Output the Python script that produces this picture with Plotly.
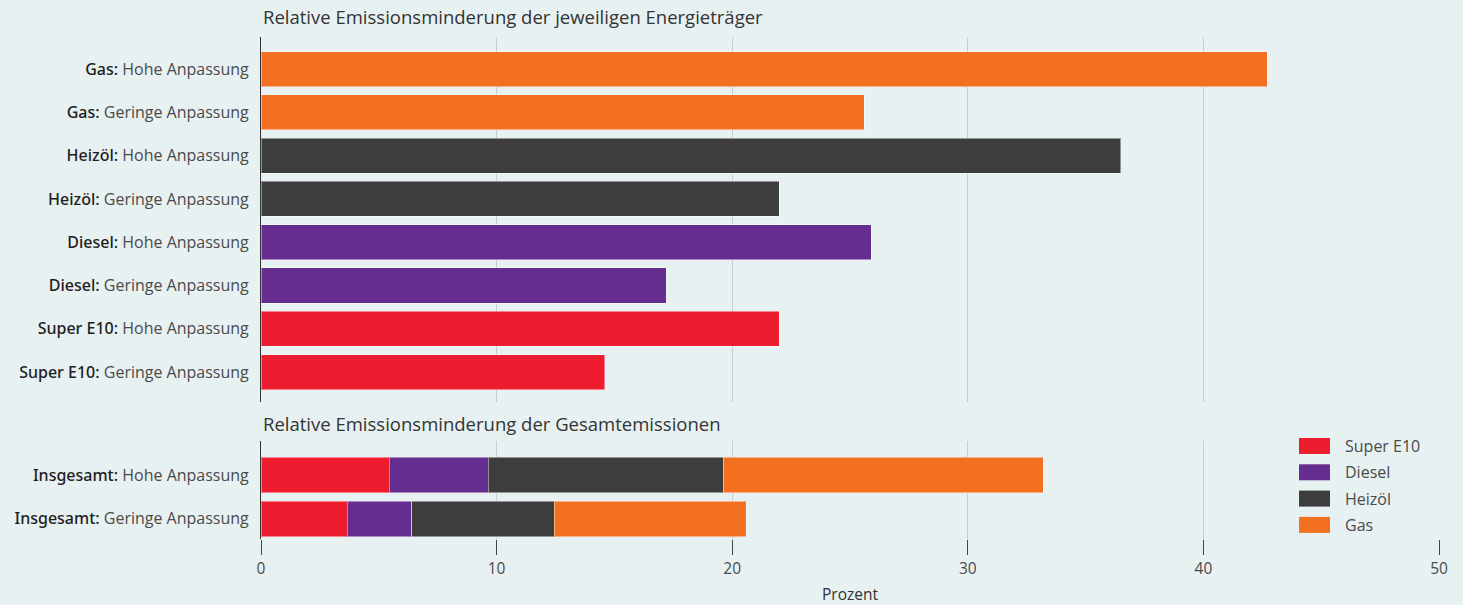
import plotly.graph_objects as go
from plotly.subplots import make_subplots

# ---- data ----
top_carriers = ["Gas", "Gas", "Heizöl", "Heizöl", "Diesel", "Diesel", "Super E10", "Super E10"]
top_variants = ["Hohe Anpassung", "Geringe Anpassung"] * 4
top_values = [42.7, 25.6, 36.5, 22.0, 25.9, 17.2, 22.0, 14.6]

bottom_prefix = ["Insgesamt", "Insgesamt"]
bottom_variants = ["Hohe Anpassung", "Geringe Anpassung"]
series_names = ["Super E10", "Diesel", "Heizöl", "Gas"]
super_e10 = [5.45, 3.67]
diesel = [4.2, 2.73]
heizoel = [10.0, 6.05]
gas = [13.55, 8.15]
bottom_series = [super_e10, diesel, heizoel, gas]

x_ticks = [0, 10, 20, 30, 40, 50]

colors = {"Super E10": "#ed1c2e", "Diesel": "#662d91", "Heizöl": "#3d3d3d", "Gas": "#f37021"}

BG = "#e8f1f2"
FONT = "Open Sans"
TXT = "#333333"


def lab(a, b):
    return (f"<span style='font-family:Noto Sans;font-weight:500;color:#1e1e1e'>{a}:</span>"
            f" <span style='color:#4a4a4a'>{b}</span>")


top_labels = [lab(a, b) for a, b in zip(top_carriers, top_variants)]
bottom_labels = [lab(a, b) for a, b in zip(bottom_prefix, bottom_variants)]

fig = make_subplots(rows=2, cols=1, shared_xaxes=False)

fig.add_trace(go.Bar(
    x=top_values, y=list(range(len(top_labels))), orientation="h",
    marker=dict(color=[colors[c] for c in top_carriers],
                line=dict(color="rgba(255,255,255,0.45)", width=1)),
    showlegend=False, hoverinfo="x",
), row=1, col=1)

for name, vals in zip(series_names, bottom_series):
    fig.add_trace(go.Bar(
        x=vals, y=list(range(len(bottom_labels))), orientation="h", name=name,
        marker=dict(color=colors[name], line=dict(color="rgba(255,255,255,0.45)", width=1)),
        showlegend=False,
    ), row=2, col=1)

# legend drawn as swatches + labels (paper coordinates)
shapes = []
annotations = [
    dict(text="Relative Emissionsminderung der jeweiligen Energieträger",
         x=0, y=1, xref="paper", yref="paper", xanchor="left", yanchor="bottom",
         yshift=6, showarrow=False, font=dict(size=18.5, color=TXT)),
    dict(text="Relative Emissionsminderung der Gesamtemissionen",
         x=0, y=0.195, xref="paper", yref="paper", xanchor="left", yanchor="bottom",
         yshift=3, showarrow=False, font=dict(size=18.5, color=TXT)),
]
PW, PH = 1178, 502  # plot area size in px
lx0 = (1299 - 261) / PW
lx1 = (1330 - 261) / PW
ltx = (1343 - 261) / PW
for i, name in enumerate(series_names):
    cy = 446 + i * 26.3
    y0 = (539 - (cy + 8)) / PH
    y1 = (539 - (cy - 8)) / PH
    shapes.append(dict(type="rect", xref="paper", yref="paper", x0=lx0, x1=lx1, y0=y0, y1=y1,
                       fillcolor=colors[name], line=dict(width=0)))
    annotations.append(dict(text=name, x=ltx, y=(539 - cy) / PH, xref="paper", yref="paper",
                            xanchor="left", yanchor="middle", showarrow=False,
                            font=dict(size=16, color="#4a4a4a")))

fig.update_layout(
    barmode="stack",
    bargap=0.19,
    width=1463, height=605,
    paper_bgcolor=BG, plot_bgcolor=BG,
    margin=dict(l=261, r=24, t=37, b=66, autoexpand=False),
    font=dict(family=FONT, size=16, color=TXT),
    showlegend=False,
    shapes=shapes,
    annotations=annotations,
)

common_x = dict(range=[0, 50], tickvals=x_ticks, showgrid=True, gridcolor="#c6cccf",
                gridwidth=1, zeroline=False, showline=False, automargin=False)
fig.update_xaxes(**common_x, showticklabels=False, ticks="", row=1, col=1)
fig.update_xaxes(**common_x, showticklabels=True, ticks="outside", ticklen=15,
                 tickcolor="#444", tickwidth=1,
                 tickfont=dict(size=15.5, color="#4a4a4a"),
                 title=dict(text="Prozent", font=dict(size=15.5, color=TXT), standoff=14),
                 row=2, col=1)

fig.update_yaxes(domain=[0.273, 1.0], range=[7.69, -0.74],
                 tickvals=list(range(len(top_labels))), ticktext=top_labels,
                 tickfont=dict(size=16), automargin=False,
                 showgrid=False, zeroline=False, showline=True, linecolor="#333",
                 linewidth=1, ticks="", ticklabelstandoff=8, row=1, col=1)
fig.update_yaxes(domain=[0.0, 0.195], range=[1.46, -0.77],
                 tickvals=list(range(len(bottom_labels))), ticktext=bottom_labels,
                 tickfont=dict(size=16), automargin=False,
                 showgrid=False, zeroline=False, showline=True, linecolor="#333",
                 linewidth=1, ticks="", ticklabelstandoff=8, row=2, col=1)

fig.write_html("out.html", config={"displayModeBar": False},
               post_script="document.body.style.margin='0';")
